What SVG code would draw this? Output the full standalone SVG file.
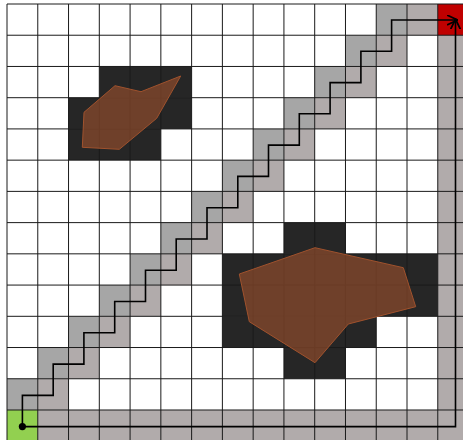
<svg xmlns="http://www.w3.org/2000/svg" width="463" height="440" viewBox="0 0 463 440">
<style>
.cell{stroke:none}
.dg{fill:#a6a6a6}
.lg{fill:#b1abab}
.obs{fill:#262626}
.grid line{stroke:#1a1a1a;stroke-width:1}
.poly{fill:#a0522d;fill-opacity:0.6;stroke:#a0522d;stroke-width:1;stroke-linejoin:round}
.route{fill:none;stroke:#000;stroke-width:1.6}
</style>
<defs>
<marker id="arr" viewBox="0 0 10 10" refX="9.5" refY="5" markerWidth="11" markerHeight="11" markerUnits="userSpaceOnUse" orient="auto">
<path d="M0,0.5 L9.5,5 L0,9.5" fill="none" stroke="#000" stroke-width="1.6"/>
</marker>
</defs>
<rect width="463" height="440" fill="#fff"/>
<g id="path-cells">
<rect class="cell dg" x="376.24" y="4" width="30.77" height="31.23"/>
<rect class="cell dg" x="345.47" y="35.23" width="30.77" height="31.23"/>
<rect class="cell dg" x="314.7" y="66.46" width="30.77" height="31.23"/>
<rect class="cell dg" x="283.93" y="97.69" width="30.77" height="31.23"/>
<rect class="cell dg" x="253.16" y="128.92" width="30.77" height="31.23"/>
<rect class="cell dg" x="222.39" y="160.15" width="30.77" height="31.23"/>
<rect class="cell dg" x="191.62" y="191.38" width="30.77" height="31.23"/>
<rect class="cell dg" x="160.85" y="222.61" width="30.77" height="31.23"/>
<rect class="cell dg" x="130.08" y="253.84" width="30.77" height="31.23"/>
<rect class="cell dg" x="99.31" y="285.07" width="30.77" height="31.23"/>
<rect class="cell dg" x="68.54" y="316.3" width="30.77" height="31.23"/>
<rect class="cell dg" x="37.77" y="347.53" width="30.77" height="31.23"/>
<rect class="cell dg" x="7" y="378.76" width="30.77" height="31.23"/>
<rect class="cell lg" x="407.01" y="4" width="30.77" height="31.23"/>
<rect class="cell lg" x="376.24" y="35.23" width="30.77" height="31.23"/>
<rect class="cell lg" x="345.47" y="66.46" width="30.77" height="31.23"/>
<rect class="cell lg" x="314.7" y="97.69" width="30.77" height="31.23"/>
<rect class="cell lg" x="283.93" y="128.92" width="30.77" height="31.23"/>
<rect class="cell lg" x="253.16" y="160.15" width="30.77" height="31.23"/>
<rect class="cell lg" x="222.39" y="191.38" width="30.77" height="31.23"/>
<rect class="cell lg" x="191.62" y="222.61" width="30.77" height="31.23"/>
<rect class="cell lg" x="160.85" y="253.84" width="30.77" height="31.23"/>
<rect class="cell lg" x="130.08" y="285.07" width="30.77" height="31.23"/>
<rect class="cell lg" x="99.31" y="316.3" width="30.77" height="31.23"/>
<rect class="cell lg" x="68.54" y="347.53" width="30.77" height="31.23"/>
<rect class="cell lg" x="37.77" y="378.76" width="30.77" height="31.23"/>
<rect class="cell lg" x="37.77" y="409.99" width="430" height="31.23"/>
<rect class="cell lg" x="437.78" y="35.23" width="30.77" height="374.76"/>
</g>
<g id="obstacle-1">
<rect class="cell obs" x="99.31" y="66.46" width="92.31" height="31.23"/>
<rect class="cell obs" x="68.54" y="97.69" width="123.08" height="31.23"/>
<rect class="cell obs" x="68.54" y="128.92" width="92.31" height="31.23"/>
</g>
<g id="obstacle-2">
<rect class="cell obs" x="283.93" y="222.61" width="61.54" height="31.23"/>
<rect class="cell obs" x="222.39" y="253.84" width="215.39" height="62.46"/>
<rect class="cell obs" x="222.39" y="316.3" width="153.85" height="31.23"/>
<rect class="cell obs" x="283.93" y="347.53" width="61.54" height="31.23"/>
</g>
<g id="start">
<rect class="cell" x="7" y="409.99" width="30.77" height="31.23" fill="#92d050"/>
</g>
<g id="goal">
<rect class="cell" x="437.78" y="4" width="30.77" height="31.23" fill="#c00000"/>
</g>
<g class="grid">
<line x1="7" y1="4" x2="7" y2="441"/>
<line x1="37.77" y1="4" x2="37.77" y2="441"/>
<line x1="68.54" y1="4" x2="68.54" y2="441"/>
<line x1="99.31" y1="4" x2="99.31" y2="441"/>
<line x1="130.08" y1="4" x2="130.08" y2="441"/>
<line x1="160.85" y1="4" x2="160.85" y2="441"/>
<line x1="191.62" y1="4" x2="191.62" y2="441"/>
<line x1="222.39" y1="4" x2="222.39" y2="441"/>
<line x1="253.16" y1="4" x2="253.16" y2="441"/>
<line x1="283.93" y1="4" x2="283.93" y2="441"/>
<line x1="314.7" y1="4" x2="314.7" y2="441"/>
<line x1="345.47" y1="4" x2="345.47" y2="441"/>
<line x1="376.24" y1="4" x2="376.24" y2="441"/>
<line x1="407.01" y1="4" x2="407.01" y2="441"/>
<line x1="437.78" y1="4" x2="437.78" y2="441"/>
<line x1="7" y1="4" x2="468" y2="4"/>
<line x1="7" y1="35.23" x2="468" y2="35.23"/>
<line x1="7" y1="66.46" x2="468" y2="66.46"/>
<line x1="7" y1="97.69" x2="468" y2="97.69"/>
<line x1="7" y1="128.92" x2="468" y2="128.92"/>
<line x1="7" y1="160.15" x2="468" y2="160.15"/>
<line x1="7" y1="191.38" x2="468" y2="191.38"/>
<line x1="7" y1="222.61" x2="468" y2="222.61"/>
<line x1="7" y1="253.84" x2="468" y2="253.84"/>
<line x1="7" y1="285.07" x2="468" y2="285.07"/>
<line x1="7" y1="316.3" x2="468" y2="316.3"/>
<line x1="7" y1="347.53" x2="468" y2="347.53"/>
<line x1="7" y1="378.76" x2="468" y2="378.76"/>
<line x1="7" y1="409.99" x2="468" y2="409.99"/>
</g>
<g id="polygon-1">
<polygon class="poly" points="115,85.7 141,91.7 180.7,76 156.7,118.3 119.3,149.3 82.3,147.3 84,112.3"/>
</g>
<g id="polygon-2">
<polygon class="poly" points="315,247.7 403.3,267.7 415.7,306.7 348.3,324 315,362.7 249.3,321.7 239.3,274"/>
</g>
<g id="connectors">
<path class="route" marker-end="url(#arr)" d="M22.4,426.6 V395.4 H53.2 V364.1 H83.9 V332.8 H114.7 V301.5 H145.5 V270.2 H176.2 V239 H207 V207.7 H237.8 V176.4 H268.5 V145.1 H299.3 V113.8 H330.1 V82.6 H360.9 V51.3 H391.6 V20 H457.5"/>
<path class="route" marker-end="url(#arr)" d="M22.4,426.6 H455.5 V19"/>
<circle cx="22.4" cy="426.6" r="3.6" fill="#000"/>
</g>
</svg>
